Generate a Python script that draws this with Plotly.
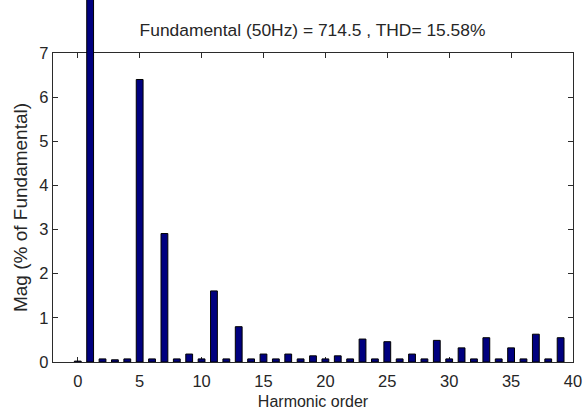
import plotly.graph_objects as go

# Harmonic spectrum: magnitudes in % of the fundamental, orders 0..39
harmonic_order = list(range(0, 40))
magnitude_pct = [
    0.02, 100.0, 0.07, 0.05, 0.07, 6.40, 0.07, 2.91, 0.07, 0.18,
    0.07, 1.61, 0.07, 0.80, 0.07, 0.18, 0.07, 0.18, 0.07, 0.14,
    0.07, 0.14, 0.07, 0.52, 0.07, 0.46, 0.07, 0.18, 0.07, 0.49,
    0.07, 0.32, 0.07, 0.55, 0.07, 0.32, 0.07, 0.63, 0.07, 0.55,
]
x_ticks = list(range(0, 41, 5))
y_ticks = list(range(0, 8))
title_text = "Fundamental (50Hz) = 714.5 , THD= 15.58%"

font_family = "Liberation Sans, Arial, sans-serif"
text_color = "#262626"
axis_color = "#2b2b2b"

W, H = 583, 414
M_L, M_R, M_T, M_B = 53, 10, 0, 52
axes_top = 53                     # top edge of the framed axes box
plot_h = H - M_T - M_B            # full drawable height (bars may overflow the box)
y_max = 7
box_frac = (H - M_B - axes_top) / plot_h
# hidden full-height axis sharing the visible axis' scale, so the
# fundamental bar runs past the top of the box as in MATLAB
y2_max = y_max / box_frac

fig = go.Figure()
# empty trace that keeps the framed x/y subplot alive
fig.add_trace(
    go.Scatter(x=[None], y=[None], mode="markers", xaxis="x", yaxis="y",
               hoverinfo="skip", showlegend=False)
)
fig.add_trace(
    go.Bar(
        x=harmonic_order,
        y=magnitude_pct,
        width=0.55,
        marker=dict(color="#00007f", line=dict(color="#000000", width=1)),
        xaxis="x",
        yaxis="y2",
    )
)

fig.update_layout(
    width=W,
    height=H,
    margin=dict(l=M_L, r=M_R, t=M_T, b=M_B, autoexpand=False),
    paper_bgcolor="white",
    plot_bgcolor="rgba(0,0,0,0)",
    showlegend=False,
    font=dict(family=font_family, color=text_color, size=16),
    title=dict(
        text=title_text,
        x=0.536,
        xanchor="center",
        y=1 - 30 / H,
        yanchor="middle",
        automargin=False,
        font=dict(size=17.4, family=font_family, color=text_color),
    ),
    xaxis=dict(
        range=[-2, 40],
        anchor="y",
        automargin=False,
        tickvals=x_ticks,
        ticks="inside",
        ticklen=5,
        tickcolor=axis_color,
        showline=True,
        linecolor=axis_color,
        linewidth=1.3,
        mirror="ticks",
        showgrid=False,
        zeroline=False,
        tickfont=dict(size=16.5),
        ticklabelstandoff=4,
        title=dict(text="Harmonic order", font=dict(size=16), standoff=6),
    ),
    yaxis=dict(
        domain=[0, box_frac],
        range=[0, y_max],
        anchor="x",
        automargin=False,
        tickvals=y_ticks,
        ticks="inside",
        ticklen=5,
        tickcolor=axis_color,
        showline=True,
        linecolor=axis_color,
        linewidth=1.3,
        mirror="ticks",
        showgrid=False,
        zeroline=False,
        tickfont=dict(size=16.5),
        title=dict(text="Mag (% of Fundamental)", font=dict(size=19), standoff=6),
    ),
    yaxis2=dict(
        domain=[0, 1],
        range=[0, y2_max],
        anchor="x",
        automargin=False,
        visible=False,
        showgrid=False,
        zeroline=False,
    ),
)

fig.write_html("out.html")
